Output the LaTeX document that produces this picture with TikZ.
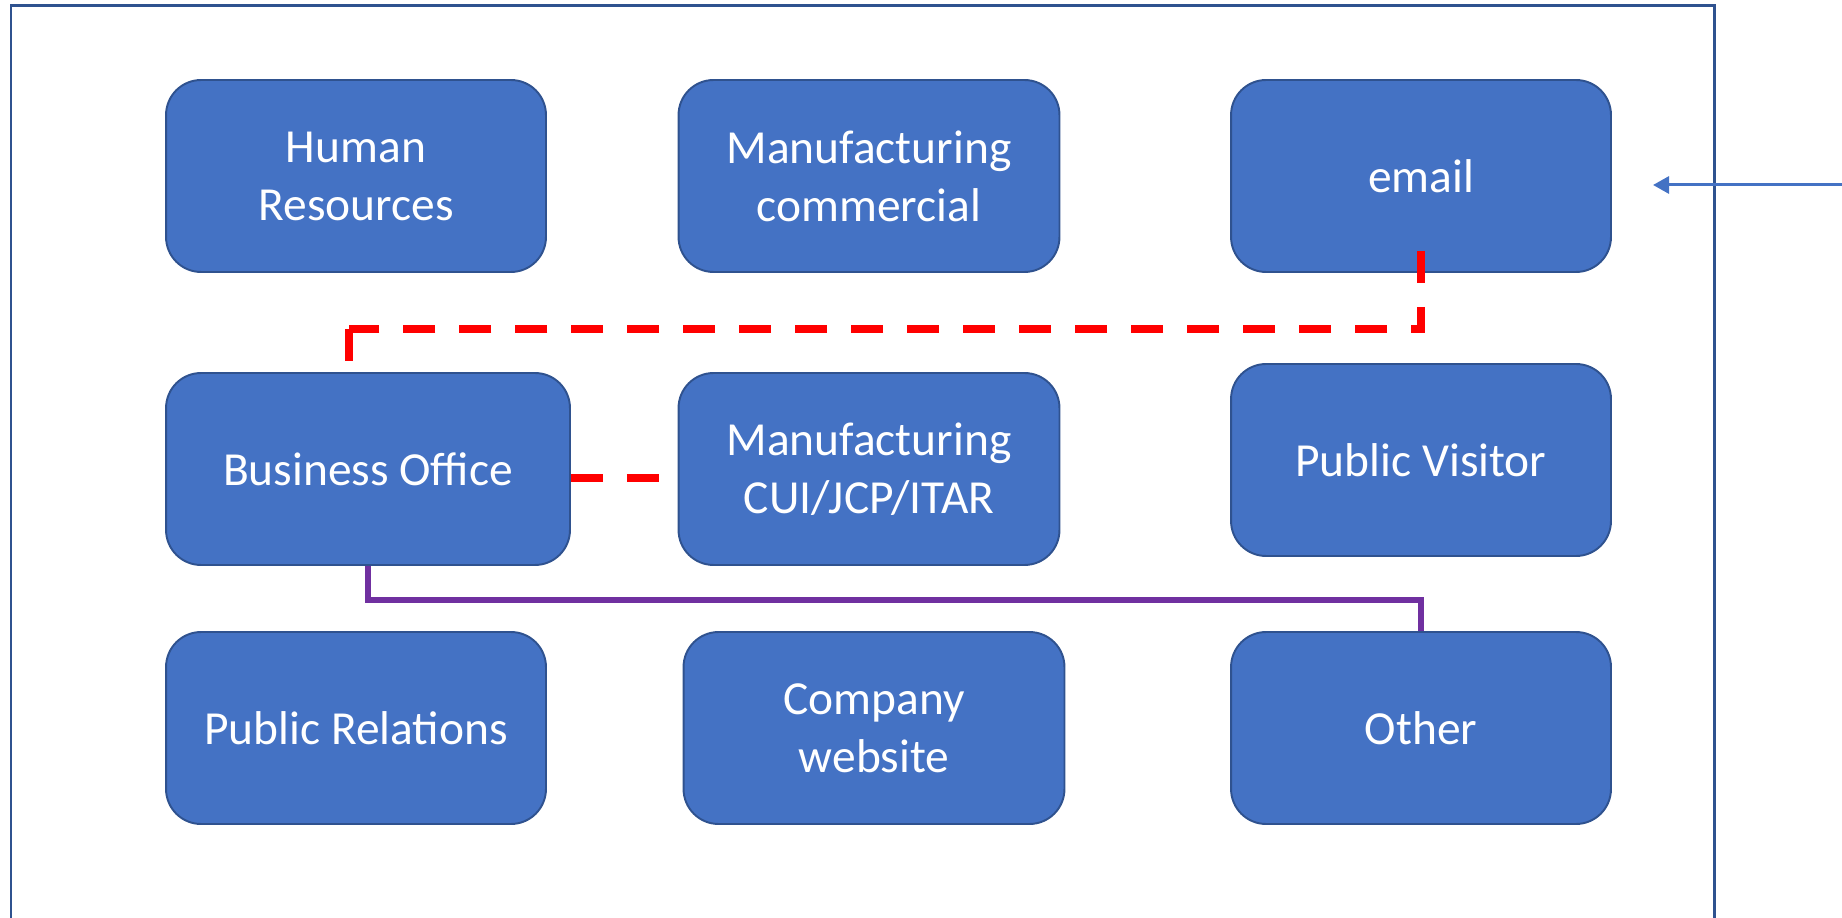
\documentclass[tikz,border=0pt]{standalone}
\usepackage{fontspec}
\setmainfont{Carlito}
\usepackage{tikz}
\usetikzlibrary{arrows.meta}
\usetikzlibrary{positioning}

\definecolor{boxblue}{HTML}{4472C4}
\definecolor{edgeblue}{HTML}{2F528F}
\definecolor{linkpurple}{HTML}{7030A0}

\tikzset{
	unit/.style={rectangle,rounded corners=0.7cm,draw=edgeblue,line width=1.1pt,fill=boxblue,
		text=white,align=center,minimum width=7.6cm,minimum height=3.84cm,
		font=\fontsize{27}{33}\selectfont},
	reddash/.style={draw=red,line width=0.16cm,dash pattern=on 0.64cm off 0.48cm},
	purplelink/.style={draw=linkpurple,line width=0.12cm}
}

\begin{document}
\begin{tikzpicture}[x=0.02cm,y=-0.02cm]
			\useasboundingbox (0,0) rectangle (1842,918);
			\clip (0,0) rectangle (1842,918);
			
			% frame
			\draw[edgeblue,line width=0.06cm] (11,940) -- (11,6) -- (1714,6) -- (1714,940);
			
			% units
			\node[unit] (HR) at (356,176) {Human\\Resources};
			\node[unit,minimum width=7.62cm] (MC) at (869,176) {Manufacturing\\commercial};
			\node[unit] (EM) at (1421,176) {email};
			
			\node[unit,minimum width=8.08cm] (BO) at (368,469) {Business Office};
			\node[unit,minimum width=7.62cm] (CUI) at (869,469) {Manufacturing\\CUI/JCP/ITAR};
			\node[unit] (PV) at (1421,460) {Public Visitor};
			
			\node[unit] (PR) at (356,728) {Public Relations};
			\node[unit,minimum width=7.62cm] (CW) at (874,728) {Company\\website};
			\node[unit] (OT) at (1421,728) {Other};
			
			% links
			\coordinate (bend) at (349,329);
			\draw[reddash] ([yshift=0.44cm]EM.south) |- (bend);
			\draw[reddash] (bend) -- ([yshift=-0.16cm]bend |- BO.north);
			\draw[reddash] ([yshift=-0.18cm]BO.east) -- ([yshift=-0.18cm]CUI.west);
			\draw[purplelink] (BO.south) -- ++(0,34) -| (OT.north);
			
			% incoming
			\coordinate (in) at (1850,185);
			\coordinate (tip) at (1653,185);
			\draw[boxblue,line width=0.06cm,-{Triangle[length=0.32cm,width=0.34cm]}] (in) -- (tip);
			
		\end{tikzpicture}
\end{document}
